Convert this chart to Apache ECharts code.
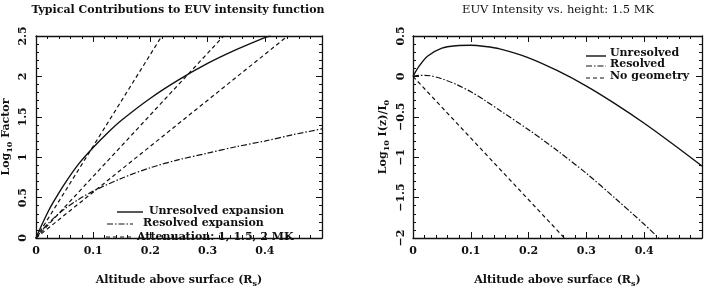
<!DOCTYPE html>
<html><head><meta charset="utf-8">
<script src="https://cdn.jsdelivr.net/npm/echarts@6/dist/echarts.min.js"></script>
<style>html,body{margin:0;padding:0;background:#fff}#c{width:706px;height:293px}</style>
</head><body><div id="c"></div>
<script>
// ---- data ----
const xTickLabels = ['0', '0.1', '0.2', '0.3', '0.4', ''];
const leftYTickLabels = ['0', '0.5', '1', '1.5', '2', '2.5'];
const rightYTickLabels = ['\u22122', '\u22121.5', '\u22121', '\u22120.5', '0', '0.5'];

const unresolvedX = [0, 0.01, 0.02, 0.03, 0.05, 0.075, 0.1, 0.125, 0.15, 0.2, 0.25, 0.3, 0.35, 0.4, 0.41];
const unresolvedY = [0, 0.16, 0.31, 0.44, 0.67, 0.92, 1.12, 1.30, 1.46, 1.73, 1.96, 2.16, 2.33, 2.48, 2.5];
const resolvedX = [0, 0.01, 0.02, 0.03, 0.05, 0.075, 0.1, 0.15, 0.2, 0.25, 0.3, 0.35, 0.4, 0.45, 0.5];
const resolvedY = [0, 0.09, 0.17, 0.24, 0.36, 0.48, 0.58, 0.74, 0.87, 0.97, 1.05, 1.13, 1.2, 1.28, 1.35];
const atten1X = [0, 0.22], atten1Y = [0, 2.5];
const atten15X = [0, 0.328], atten15Y = [0, 2.5];
const atten2X = [0, 0.44], atten2Y = [0, 2.5];

const rUnresX = [0, 0.01, 0.025, 0.05, 0.075, 0.1, 0.125, 0.15, 0.2, 0.25, 0.3, 0.35, 0.4, 0.45, 0.5];
const rUnresY = [0, 0.12, 0.25, 0.35, 0.38, 0.385, 0.37, 0.34, 0.23, 0.07, -0.12, -0.34, -0.58, -0.84, -1.11];
const rResX = [0, 0.01, 0.02, 0.03, 0.05, 0.075, 0.1, 0.125, 0.15, 0.2, 0.25, 0.3, 0.35, 0.4, 0.425];
const rResY = [0, 0.012, 0.013, 0.008, -0.03, -0.1, -0.19, -0.3, -0.42, -0.66, -0.92, -1.2, -1.51, -1.83, -2.0];
const noGeoX = [0, 0.262], noGeoY = [0, -2.0];

// ---- build ----
const zip = (xs, ys) => xs.map((x, i) => [x, ys[i]]);
const FONT = 'DejaVu Serif';
const INK = '#111';
const DASH = [4, 3];
const DASHDOT = [6, 2, 1.5, 2];

function axisBase(extra) {
  return Object.assign({
    type: 'value',
    axisLine: { show: true, onZero: false, lineStyle: { color: INK, width: 1.3 } },
    axisTick: { show: true, inside: true, length: 6, lineStyle: { color: INK, width: 1 } },
    minorTick: { show: true, splitNumber: 5, length: 3, lineStyle: { color: INK, width: 1 } },
    splitLine: { show: false },
    axisLabel: { show: false }
  }, extra);
}
function lbl(arr, min, step, extra) {
  return Object.assign({
    show: true, color: INK, fontFamily: FONT, fontWeight: 'bold', fontSize: 11,
    showMinLabel: true, showMaxLabel: true,
    formatter: v => { const i = Math.round((v - min) / step); return arr[i] !== undefined ? arr[i] : ''; }
  }, extra);
}
const rich = {
  a: { fontFamily: FONT, fontWeight: 'bold', fontSize: 11, color: INK },
  s: { fontFamily: FONT, fontWeight: 'bold', fontSize: 8, color: INK, padding: [7, 0, 0, 0] }
};
const xName = {
  name: '{a|Altitude above surface (R}{s|s}{a|)}',
  nameLocation: 'middle', nameGap: 35,
  nameTextStyle: { rich }
};

const grids = [
  { left: 34, top: 36, width: 288, height: 212 },
  { left: 413, top: 36, width: 289, height: 212 }
];

const xAxes = [], yAxes = [];
[0, 1].forEach(g => {
  xAxes.push(axisBase(Object.assign({ gridIndex: g, position: 'bottom', min: 0, max: 0.5, interval: 0.1,
    axisLabel: lbl(xTickLabels, 0, 0.1, { margin: 8 }) }, xName)));
  xAxes.push(axisBase({ gridIndex: g, position: 'top', min: 0, max: 0.5, interval: 0.1 }));
});
yAxes.push(axisBase({ gridIndex: 0, position: 'left', min: 0, max: 2.5, interval: 0.5,
  axisLabel: lbl(leftYTickLabels, 0, 0.5, { rotate: 90, margin: 7 }),
  name: '{a|Log}{s|10}{a| Factor}', nameLocation: 'middle', nameRotate: 90, nameGap: 22,
  nameTextStyle: { rich } }));
yAxes.push(axisBase({ gridIndex: 0, position: 'right', min: 0, max: 2.5, interval: 0.5 }));
yAxes.push(axisBase({ gridIndex: 1, position: 'left', min: -2, max: 0.5, interval: 0.5,
  axisLabel: lbl(rightYTickLabels, -2, 0.5, { rotate: 90, margin: 6 }),
  name: '{a|Log}{s|10}{a| I(z)/I}{s|0}', nameLocation: 'middle', nameRotate: 90, nameGap: 22,
  nameTextStyle: { rich } }));
yAxes.push(axisBase({ gridIndex: 1, position: 'right', min: -2, max: 0.5, interval: 0.5 }));

function ser(name, xi, yi, data, type, width, smooth) {
  return { name, type: 'line', xAxisIndex: xi, yAxisIndex: yi, data, showSymbol: false, symbol: 'none',
    smooth: smooth ? 0.3 : false, silent: true, animation: false,
    lineStyle: { color: INK, width: width, type: type } };
}

const series = [
  ser('Unresolved expansion', 0, 0, zip(unresolvedX, unresolvedY), 'solid', 1.4, true),
  ser('Resolved expansion', 0, 0, zip(resolvedX, resolvedY), DASHDOT, 1.2, true),
  ser('Attenuation 1 MK', 0, 0, zip(atten1X, atten1Y), DASH, 1.2, false),
  ser('Attenuation 1.5 MK', 0, 0, zip(atten15X, atten15Y), DASH, 1.2, false),
  ser('Attenuation 2 MK', 0, 0, zip(atten2X, atten2Y), DASH, 1.2, false),
  ser('Unresolved', 2, 2, zip(rUnresX, rUnresY), 'solid', 1.4, true),
  ser('Resolved', 2, 2, zip(rResX, rResY), DASHDOT, 1.2, true),
  ser('No geometry', 2, 2, zip(noGeoX, noGeoY), DASH, 1.2, false)
];

function legLine(x1, x2, y, type, w) {
  return { type: 'line', shape: { x1, y1: y, x2, y2: y }, style: { stroke: INK, lineWidth: w, lineDash: type === 'solid' ? null : type } };
}
function legText(x, y, t) {
  return { type: 'text', x, y, style: { text: t, fill: INK, font: 'bold 11px "' + FONT + '"', textVerticalAlign: 'middle', textAlign: 'left' } };
}
const graphic = [
  { type: 'text', x: 178, y: 10, style: { text: 'Typical Contributions to EUV intensity function', fill: INK, font: 'bold 11px "' + FONT + '"', textAlign: 'center', textVerticalAlign: 'middle' } },
  { type: 'text', x: 558, y: 10, style: { text: 'EUV Intensity vs. height: 1.5 MK', fill: INK, font: '11.5px "' + FONT + '"', textAlign: 'center', textVerticalAlign: 'middle' } },
  legLine(117, 143, 212, 'solid', 1.4), legText(149, 211, 'Unresolved expansion'),
  legLine(107, 133, 224, DASHDOT, 1.2), legText(143, 223, 'Resolved expansion'),
  legLine(106, 133, 237, DASH, 1.2), legText(137, 237, 'Attenuation: 1, 1.5, 2 MK'),
  legLine(586, 606, 56, 'solid', 1.4), legText(610, 53, 'Unresolved'),
  legLine(586, 606, 66, DASHDOT, 1.2), legText(610, 64, 'Resolved'),
  legLine(586, 606, 78, DASH, 1.2), legText(610, 76, 'No geometry')
];

const chart = echarts.init(document.getElementById('c'), null, { renderer: 'canvas' });
chart.setOption({ animation: false, grid: grids, xAxis: xAxes, yAxis: yAxes, series, graphic });
</script></body></html>
